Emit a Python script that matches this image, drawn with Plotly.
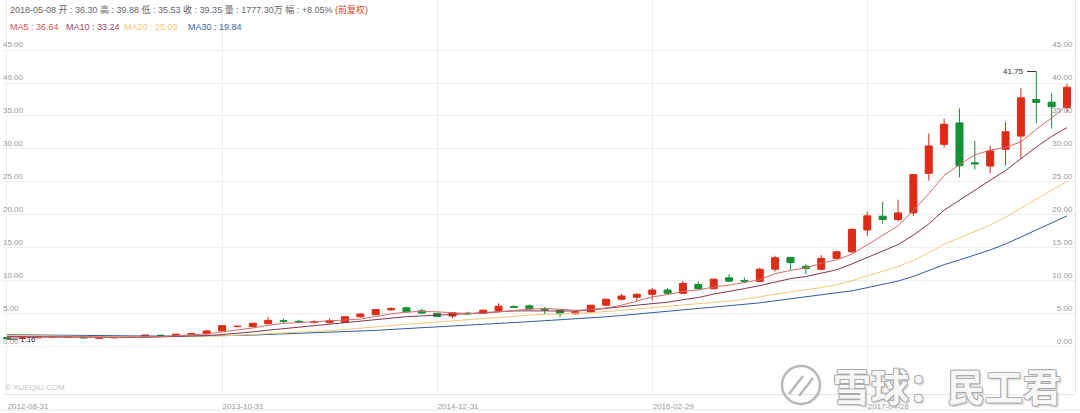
import plotly.graph_objects as go

# ---------------- data ----------------
months = [
    "2012-08", "2012-09", "2012-10", "2012-11", "2012-12",
    "2013-01", "2013-02", "2013-03", "2013-04", "2013-05", "2013-06",
    "2013-07", "2013-08", "2013-09", "2013-10", "2013-11", "2013-12",
    "2014-01", "2014-02", "2014-03", "2014-04", "2014-05", "2014-06",
    "2014-07", "2014-08", "2014-09", "2014-10", "2014-11", "2014-12",
    "2015-01", "2015-02", "2015-03", "2015-04", "2015-05", "2015-06",
    "2015-07", "2015-08", "2015-09", "2015-10", "2015-11", "2015-12",
    "2016-01", "2016-02", "2016-03", "2016-04", "2016-05", "2016-06",
    "2016-07", "2016-08", "2016-09", "2016-10", "2016-11", "2016-12",
    "2017-01", "2017-02", "2017-03", "2017-04", "2017-05", "2017-06",
    "2017-07", "2017-08", "2017-09", "2017-10", "2017-11", "2017-12",
    "2018-01", "2018-02", "2018-03", "2018-04", "2018-05",
]

opens = [1.40, 1.25, 1.35, 1.42, 1.44, 1.45, 1.30, 1.35, 1.40, 1.60,
         1.75, 1.62, 1.90, 1.95, 2.40, 3.05, 3.05, 3.50, 3.95, 3.85,
         3.70, 3.65, 3.70, 4.55, 4.85, 5.60, 5.90, 5.45, 5.05, 4.65,
         5.10, 5.05, 5.50, 6.10, 6.20, 5.75, 5.55, 5.00, 5.25, 6.30,
         7.20, 7.50, 7.95, 8.60, 8.10, 9.45, 8.80, 10.45, 10.05, 9.90,
         11.75, 13.55, 12.20, 11.75, 13.40, 14.40, 17.70, 19.80, 19.30, 20.30,
         26.30, 30.70, 33.95, 27.90, 27.40, 29.95, 31.95, 37.50, 37.10, 36.30]

highs = [1.45, 1.55, 1.50, 1.50, 1.52, 1.50, 1.40, 1.45, 1.50, 1.78,
         1.80, 1.95, 2.05, 2.55, 3.25, 3.15, 3.65, 4.50, 4.25, 4.10,
         4.00, 4.30, 4.60, 5.10, 5.70, 6.00, 6.10, 5.80, 5.10, 5.20,
         5.30, 5.60, 6.60, 6.30, 6.40, 6.05, 5.70, 5.50, 6.35, 7.30,
         8.00, 8.10, 8.90, 8.90, 10.00, 9.90, 10.30, 11.00, 10.50, 12.00,
         13.80, 13.60, 12.55, 13.90, 14.60, 18.00, 20.50, 22.00, 22.30, 26.20,
         32.35, 34.60, 36.15, 31.25, 30.50, 34.10, 39.20, 41.75, 38.45, 39.88]

lows = [1.16, 1.20, 1.28, 1.38, 1.40, 1.30, 1.25, 1.30, 1.35, 1.55,
        1.65, 1.58, 1.85, 1.85, 2.35, 2.95, 2.95, 3.40, 3.55, 3.60,
        3.50, 3.50, 3.65, 4.40, 4.80, 5.45, 5.10, 4.90, 4.50, 4.30,
        4.80, 4.95, 5.40, 5.90, 5.60, 4.90, 4.50, 4.90, 5.20, 6.20,
        7.00, 6.90, 7.00, 7.90, 8.00, 8.60, 8.70, 9.80, 9.70, 9.80,
        11.40, 11.65, 11.00, 11.60, 13.30, 14.20, 16.80, 18.70, 19.00, 19.80,
        25.20, 30.20, 25.70, 26.90, 26.30, 27.50, 28.50, 33.90, 33.10, 35.53]

closes = [1.25, 1.45, 1.45, 1.46, 1.48, 1.35, 1.35, 1.40, 1.45, 1.75,
          1.68, 1.90, 2.00, 2.40, 3.20, 3.10, 3.55, 4.00, 3.85, 3.75,
          3.80, 3.95, 4.55, 4.95, 5.65, 5.80, 5.30, 5.10, 4.60, 5.15,
          5.00, 5.55, 6.15, 6.00, 5.75, 5.60, 5.00, 5.30, 6.30, 7.20,
          7.70, 7.95, 8.60, 8.10, 9.60, 8.80, 10.25, 9.95, 9.95, 11.75,
          13.50, 12.75, 11.85, 13.40, 14.40, 17.80, 19.85, 19.30, 20.30, 26.10,
          30.45, 33.75, 27.45, 27.75, 29.70, 32.60, 37.75, 37.05, 36.40, 39.35]

ma5 = [1.45, 1.42, 1.40, 1.40, 1.42, 1.44, 1.42, 1.41, 1.41, 1.46,
       1.53, 1.64, 1.76, 1.95, 2.24, 2.52, 2.85, 3.25, 3.54, 3.65,
       3.79, 3.87, 3.98, 4.20, 4.58, 4.98, 5.25, 5.36, 5.29, 5.19,
       5.03, 5.08, 5.29, 5.57, 5.69, 5.81, 5.70, 5.53, 5.59, 5.88,
       6.30, 6.89, 7.55, 7.91, 8.39, 8.61, 9.07, 9.34, 9.71, 10.14,
       11.08, 11.58, 11.96, 12.65, 13.18, 14.04, 15.46, 16.95, 18.33, 20.67,
       23.20, 25.98, 27.61, 29.10, 29.82, 30.25, 31.05, 32.97, 34.70, 36.64]

ma10 = [1.55, 1.52, 1.50, 1.48, 1.47, 1.45, 1.42, 1.41, 1.41, 1.44,
        1.49, 1.53, 1.59, 1.68, 1.85, 2.03, 2.25, 2.51, 2.75, 2.95,
        3.16, 3.36, 3.62, 3.87, 4.12, 4.39, 4.56, 4.67, 4.75, 4.89,
        5.01, 5.17, 5.33, 5.43, 5.44, 5.42, 5.39, 5.41, 5.58, 5.79,
        6.06, 6.30, 6.54, 6.75, 7.14, 7.46, 7.98, 8.45, 8.81, 9.27,
        9.85, 10.33, 10.65, 11.18, 11.66, 12.56, 13.52, 14.46, 15.49, 16.93,
        18.62, 20.72, 22.28, 23.72, 25.25, 26.73, 28.52, 30.29, 31.90, 33.24]

ma20 = [1.70, 1.67, 1.64, 1.61, 1.58, 1.55, 1.52, 1.49, 1.47, 1.46,
        1.52, 1.53, 1.55, 1.58, 1.66, 1.74, 1.84, 1.96, 2.08, 2.20,
        2.33, 2.45, 2.61, 2.78, 2.99, 3.21, 3.41, 3.59, 3.75, 3.92,
        4.09, 4.27, 4.48, 4.65, 4.78, 4.91, 4.98, 5.04, 5.17, 5.34,
        5.54, 5.74, 5.94, 6.09, 6.29, 6.44, 6.69, 6.93, 7.20, 7.53,
        7.96, 8.32, 8.60, 8.97, 9.40, 10.01, 10.75, 11.46, 12.15, 13.10,
        14.24, 15.53, 16.47, 17.45, 18.46, 19.65, 21.02, 22.38, 23.70, 25.09]

ma30 = [1.82, 1.79, 1.76, 1.74, 1.71, 1.69, 1.66, 1.64, 1.63, 1.62,
        1.61, 1.61, 1.61, 1.62, 1.67, 1.71, 1.77, 1.85, 1.92, 1.99,
        2.07, 2.14, 2.24, 2.34, 2.48, 2.62, 2.74, 2.86, 2.97, 3.09,
        3.22, 3.35, 3.51, 3.66, 3.80, 3.95, 4.07, 4.20, 4.36, 4.54,
        4.74, 4.94, 5.16, 5.35, 5.57, 5.76, 5.98, 6.18, 6.38, 6.65,
        6.97, 7.27, 7.51, 7.79, 8.08, 8.48, 8.96, 9.44, 9.96, 10.66,
        11.51, 12.45, 13.16, 13.88, 14.68, 15.58, 16.67, 17.73, 18.73, 19.84]

x_tick_months = ["2012-08", "2013-10", "2014-12", "2016-02", "2017-04"]
x_tick_text = ["2012-08-31", "2013-10-31", "2014-12-31", "2016-02-29", "2017-04-28"]
y_ticks = [0, 5, 10, 15, 20, 25, 30, 35, 40, 45]

high_mark = 41.75
low_mark = 1.16

header_line = ("2018-05-08 开 : 36.30 高 : 39.88 低 : 35.53 收 : 39.35 "
               "量 : 1777.30万 幅 : +8.05% ")
header_tag = "(前复权)"
ma_labels = ["MA5 : 36.64", "MA10 : 33.24", "MA20 : 25.09", "MA30 : 19.84"]

# ---------------- styling ----------------
RED = "#dc2b16"
GREEN = "#149035"
MA_COLORS = ["#d8696a", "#7f3550", "#f3c774", "#2c5d9b"]
MA_TEXT_COLORS = ["#d9534f", "#a24560", "#f5c77c", "#34679f"]
FONT = "Arial, 'Liberation Sans', 'Noto Sans CJK SC', sans-serif"
CJK = "'Noto Sans CJK SC', 'Noto Sans', sans-serif"

W, H = 1080, 413
ML, MR, MT, MB = 3, 5, 0, 19
PW, PH = W - ML - MR, H - MT - MB


def px(x):
    return (x - ML) / PW


def py(y):
    return (H - MB - y) / PH


fig = go.Figure()

fig.add_trace(go.Candlestick(
    x=months, open=opens, high=highs, low=lows, close=closes,
    increasing=dict(line=dict(color=RED, width=1), fillcolor=RED),
    decreasing=dict(line=dict(color=GREEN, width=1), fillcolor=GREEN),
    whiskerwidth=0, showlegend=False, hoverinfo="skip",
))

for vals, col in zip([ma30, ma20, ma10, ma5], MA_COLORS[::-1]):
    fig.add_trace(go.Scatter(x=months, y=vals, mode="lines",
                             line=dict(color=col, width=1),
                             showlegend=False, hoverinfo="skip"))

# invisible traces for the two price-label axes
for ax in ["y2", "y3"]:
    fig.add_trace(go.Scatter(x=[months[0]], y=[0], yaxis=ax, mode="markers",
                             marker=dict(opacity=0), showlegend=False,
                             hoverinfo="skip"))

YR = [-7.17, 52.59]
XR = [-0.26, 69.52]
TICKFONT = dict(family=FONT, size=8, color="#999999")

fig.update_layout(
    width=W, height=H,
    margin=dict(l=ML, r=MR, t=MT, b=MB, pad=0, autoexpand=False),
    paper_bgcolor="white", plot_bgcolor="white",
    font=dict(family=FONT, size=8, color="#999999"),
    boxgap=0.35,
    xaxis=dict(
        type="category", range=XR, rangeslider=dict(visible=False),
        tickvals=x_tick_months, ticktext=x_tick_text,
        ticklabelposition="outside right", ticks="",
        showgrid=True, gridcolor="#eeeeee", gridwidth=1,
        showline=True, linecolor="#e4e4e4", linewidth=1,
        tickfont=TICKFONT, ticklabelstandoff=4,
        zeroline=False, fixedrange=True, automargin=False,
    ),
    yaxis=dict(
        range=YR, tickvals=y_ticks, showticklabels=False, ticks="",
        showgrid=True, gridcolor="#eeeeee", gridwidth=1,
        zeroline=False, showline=False, automargin=False,
    ),
    # right-hand labels: a free axis sitting at the right edge, labels to its left
    yaxis2=dict(
        range=YR, tickvals=y_ticks, tickformat=".2f", overlaying="y",
        anchor="free", position=1, side="left",
        ticklabelposition="outside top", ticks="",
        showgrid=False, zeroline=False, automargin=False,
        showline=True, linecolor="#e4e4e4", linewidth=1,
        tickfont=TICKFONT, ticklabelstandoff=1,
    ),
    # left-hand labels: a free axis at the left edge, labels to its right
    yaxis3=dict(
        range=YR, tickvals=y_ticks, tickformat=".2f", overlaying="y",
        anchor="free", position=0, side="right",
        ticklabelposition="outside top", ticks="",
        showgrid=False, zeroline=False, automargin=False, showline=False,
        tickfont=TICKFONT, ticklabelstandoff=-1,
    ),
    hovermode=False,
)

anns = []
# header lines
anns.append(dict(xref="paper", yref="paper", x=px(8), y=py(10),
                 xanchor="left", yanchor="middle", showarrow=False,
                 text=header_line + '<span style="color:#d9441c">' + header_tag + "</span>",
                 font=dict(family=FONT, size=9, color="#666666")))
ma_x = [8, 64, 122, 186]
for lab, col, xx in zip(ma_labels, MA_TEXT_COLORS, ma_x):
    anns.append(dict(xref="paper", yref="paper", x=px(xx), y=py(27),
                     xanchor="left", yanchor="middle", showarrow=False,
                     text=lab, font=dict(family=FONT, size=9, color=col)))

# high / low markers
anns.append(dict(xref="x", yref="y", x=months[67], y=high_mark,
                 xanchor="right", yanchor="middle", xshift=-10, showarrow=False,
                 text=f"{high_mark:.2f}", font=dict(family=FONT, size=8, color="#333333")))
anns.append(dict(xref="x", yref="y", x=months[0], y=low_mark,
                 xanchor="left", yanchor="middle", xshift=11, showarrow=False,
                 text=f"{low_mark:.2f}", font=dict(family=FONT, size=8, color="#333333")))

# copyright
anns.append(dict(xref="paper", yref="paper", x=px(3), y=py(387),
                 xanchor="left", yanchor="middle", showarrow=False,
                 text="© XUEQIU.COM", font=dict(family=FONT, size=8, color="#c4c4c4")))

# watermark text
anns.append(dict(xref="paper", yref="paper", x=px(947), y=py(384),
                 xanchor="center", yanchor="middle", showarrow=False,
                 text="雪球：民工君",
                 font=dict(family=CJK, size=38, weight=700, color="rgba(255,255,255,0.92)",
                           shadow="1px 1px 0 #aaa, -1px -1px 0 #aaa, 1px -1px 0 #aaa, -1px 1px 0 #aaa, 2px 2px 2px #ccc")))

shapes = []
# high / low marker ticks
shapes.append(dict(type="line", xref="x", yref="y", x0=66.4, x1=67, y0=high_mark, y1=high_mark,
                   line=dict(color="#333333", width=1)))
shapes.append(dict(type="line", xref="x", yref="y", x0=0, x1=0.7, y0=low_mark, y1=low_mark,
                   line=dict(color="#333333", width=1)))
# bottom strip line
shapes.append(dict(type="line", xref="paper", yref="paper", x0=px(0), x1=px(1080),
                   y0=py(410), y1=py(410), line=dict(color="#e4e4e4", width=1)))
# watermark logo
shapes.append(dict(type="circle", xref="paper", yref="paper",
                   x0=px(782), x1=px(820), y0=py(404), y1=py(366),
                   line=dict(color="#b8b8b8", width=2.5), fillcolor="rgba(0,0,0,0)"))
shapes.append(dict(type="line", xref="paper", yref="paper", x0=px(789), x1=px(803),
                   y0=py(394), y1=py(376), line=dict(color="#b8b8b8", width=2.5)))
shapes.append(dict(type="line", xref="paper", yref="paper", x0=px(799), x1=px(813),
                   y0=py(396), y1=py(378), line=dict(color="#b8b8b8", width=2.5)))

fig.update_layout(annotations=anns, shapes=shapes)

fig.write_html("out.html", config={"displayModeBar": False},
               post_script="document.body.style.margin='0';document.body.style.overflow='hidden';")
